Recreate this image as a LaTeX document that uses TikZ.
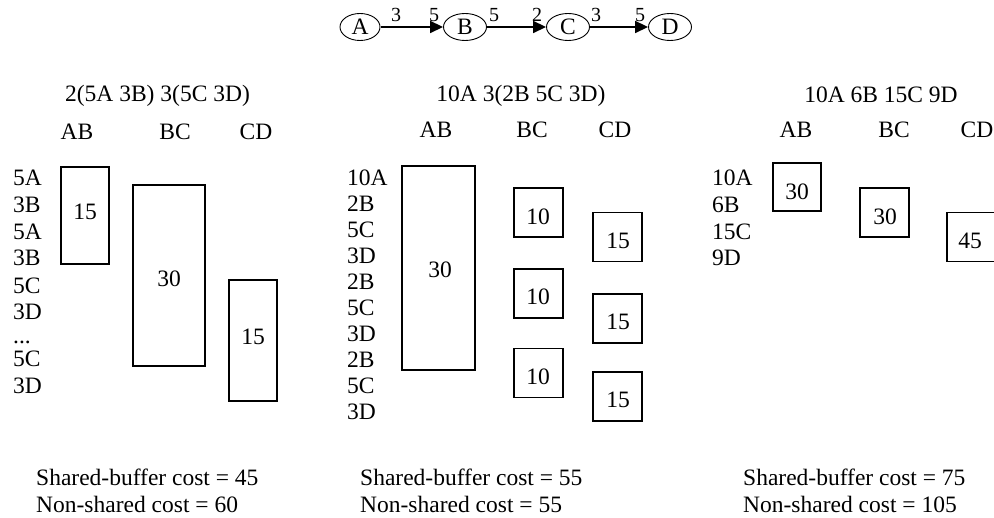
\documentclass[tikz,border=0pt]{standalone}
\usepackage{fontspec}
\setmainfont{Liberation Serif}
\usetikzlibrary{arrows.meta,shapes.geometric}
\begin{document}
\begin{tikzpicture}[x=1pt,y=-1pt,
  every node/.style={font=\fontsize{23.5}{26}\selectfont, inner sep=0pt},
  vert/.style={ellipse, draw, line width=0.9pt, minimum width=43pt, minimum height=27pt},
  elabel/.style={font=\fontsize{20}{22}\selectfont},
  buf/.style={draw, line width=1.8pt},
  edgearrow/.style={line width=1.8pt, -{Triangle[length=13pt,width=12pt]}, shorten <=0.5pt},
  lst/.style={anchor=west},
  cost/.style={anchor=west}
]
\useasboundingbox (0,0) rectangle (994,518);
\clip (0,0) rectangle (994,518);

% top graph
\node[vert, minimum width=40pt] (A) at (360,27) {A};
\node[vert] (B) at (465,27) {B};
\node[vert] (C) at (568,27) {C};
\node[vert] (D) at (670,27) {D};
\draw[edgearrow] (A) -- (B);
\draw[edgearrow] (B) -- (C);
\draw[edgearrow] (C) -- (D);
\node[elabel] (a3) at (396,15) {3};
\node[elabel] (b5) at (434,15) {5};
\node[elabel] (b5o) at (494,15) {5};
\node[elabel] (c2) at (537,15) {2};
\node[elabel] (c3) at (596,15) {3};
\node[elabel] (d5) at (640,15) {5};

% panel 1
\node (t1) at (157.5,96) {2(5A 3B) 3(5C 3D)};
\node (h1ab) at (77,132) {AB};
\node (h1bc) at (175,132) {BC};
\node (h1cd) at (256,132) {CD};
\node[lst] (l1a) at (13,178) {5A};
\node[lst] (l1b) at (13,205) {3B};
\node[lst] (l1c) at (13,232) {5A};
\node[lst] (l1d) at (13,258) {3B};
\node[lst] (l1e) at (13,286) {5C};
\node[lst] (l1f) at (13,312) {3D};
\node[anchor=base west] (l1g) at (13,344) {...};
\node[lst] (l1h) at (13,359) {5C};
\node[lst] (l1i) at (13,386) {3D};
\node[buf, minimum width=48pt, minimum height=97pt] (b1ab) at (85,215.5) {};
\node (n1ab) at (85,212) {15};
\node[buf, minimum width=72pt, minimum height=181pt] (b1bc) at (169,275.5) {};
\node (n1bc) at (169,279) {30};
\node[buf, minimum width=48pt, minimum height=121pt] (b1cd) at (253,340.5) {};
\node (n1cd) at (253,337) {15};

% panel 2
\node (t2) at (521,96) {10A 3(2B 5C 3D)};
\node (h2ab) at (436,129.5) {AB};
\node (h2bc) at (532,129.5) {BC};
\node (h2cd) at (615,129.5) {CD};
\foreach \t [count=\i from 0] in {10A,2B,5C,3D,2B,5C,3D,2B,5C,3D}
  \node[lst] (l2\i) at (347,178+26*\i) {\t};
\node[buf, minimum width=73pt, minimum height=204pt] (b2ab) at (438.5,268) {};
\node (n2ab) at (440,270) {30};
\node[buf, minimum width=49pt, minimum height=49pt] (b2bc1) at (538.5,212.5) {};
\node (n2bc1) at (538,217) {10};
\node[buf, minimum width=49pt, minimum height=49pt] (b2bc2) at (538.5,293.5) {};
\node (n2bc2) at (538,297) {10};
\node[buf, minimum width=49pt, minimum height=49pt] (b2bc3) at (538.5,373) {};
\node (n2bc3) at (538,377) {10};
\node[buf, minimum width=49pt, minimum height=49pt] (b2cd1) at (617.5,237) {};
\node (n2cd1) at (618,241) {15};
\node[buf, minimum width=49pt, minimum height=49pt] (b2cd2) at (617.5,318.5) {};
\node (n2cd2) at (618,322) {15};
\node[buf, minimum width=49pt, minimum height=49pt] (b2cd3) at (617.5,396.5) {};
\node (n2cd3) at (618,400) {15};

% panel 3
\node (t3) at (881,95) {10A 6B 15C 9D};
\node (h3ab) at (796,129.5) {AB};
\node (h3bc) at (894,129.5) {BC};
\node (h3cd) at (977,129.5) {CD};
\node[lst] (l3a) at (712,178) {10A};
\node[lst] (l3b) at (712,205) {6B};
\node[lst] (l3c) at (712,232) {15C};
\node[lst] (l3d) at (712,258) {9D};
\node[buf, minimum width=48pt, minimum height=48pt] (b3ab) at (797,187) {};
\node (n3ab) at (797,192) {30};
\node[buf, minimum width=49pt, minimum height=49pt] (b3bc) at (884.5,212.5) {};
\node (n3bc) at (885,217) {30};
\node[buf, minimum width=49pt, minimum height=49pt] (b3cd) at (971.5,237) {};
\node (n3cd) at (970,241) {45};

% costs
\node[cost] (s1) at (36,477) {Shared-buffer cost = 45};
\node[cost] (s1n) at (36,504) {Non-shared cost = 60};
\node[cost] (s2) at (360,477) {Shared-buffer cost = 55};
\node[cost] (s2n) at (360,504) {Non-shared cost = 55};
\node[cost] (s3) at (743,477) {Shared-buffer cost = 75};
\node[cost] (s3n) at (743,504) {Non-shared cost = 105};
\end{tikzpicture}
\end{document}
